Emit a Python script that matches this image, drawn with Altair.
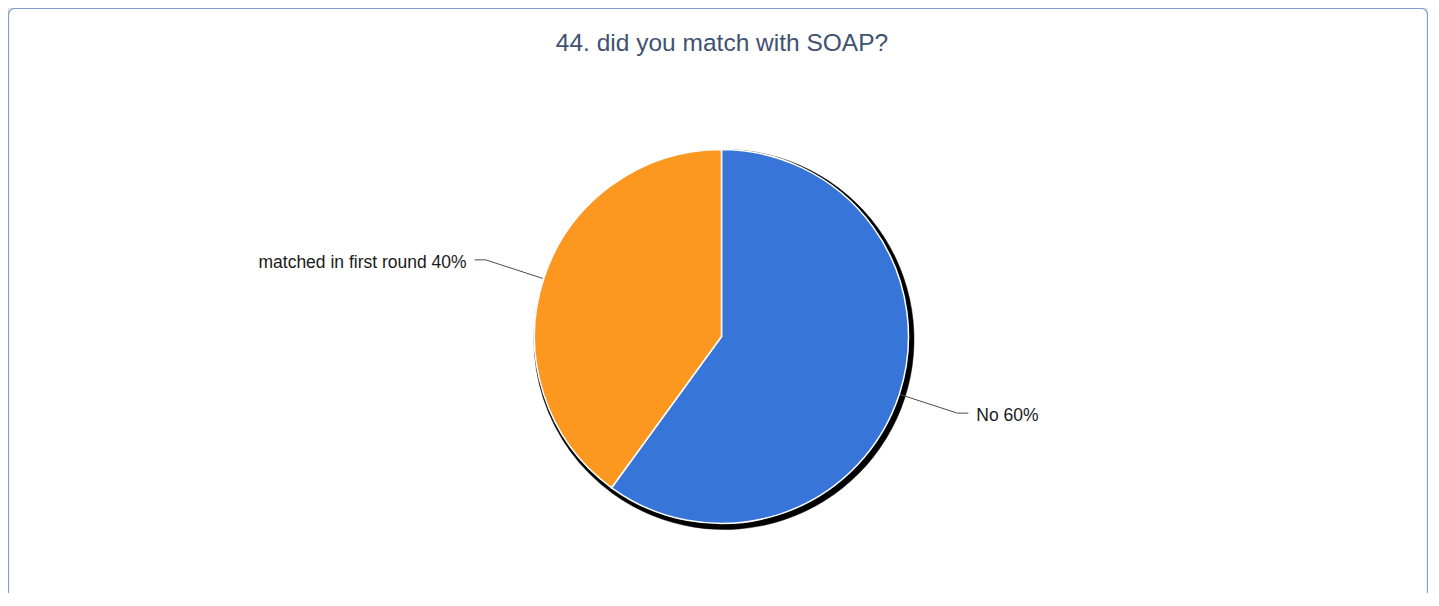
import math
import altair as alt
import pandas as pd

# ---- data ----
TITLE = "44. did you match with SOAP?"
categories = ["No", "matched in first round"]
values = [60, 40]
colors = ["#3875d8", "#fc9820"]

# ---- layout ----
W, H = 1420, 585
CX, CY = 713.5, 328.5
R = 187
R_SHADOW = 190
R_LEAD = 248
HLEN = 11
GAP = 8

total = sum(values)
pie_df = pd.DataFrame({"category": categories, "value": values, "order": range(len(values))})

# leader lines / labels derived from the data
rows, lab_rows = [], []
cum = 0
for cat, v in zip(categories, values):
    mid = (cum + v / 2) / total * 2 * math.pi
    cum += v
    s, c = math.sin(mid), math.cos(mid)
    sign = 1 if s >= 0 else -1
    p1 = (CX + (R + 1) * s, CY - (R + 1) * c)
    p2 = (CX + R_LEAD * s, CY - R_LEAD * c)
    p3 = (p2[0] + sign * HLEN, p2[1])
    for i, p in enumerate([p1, p2, p3]):
        rows.append({"category": cat, "i": i, "px": p[0], "py": p[1]})
    lab_rows.append({
        "category": cat,
        "label": f"{cat} {round(v / total * 100)}%",
        "px": p3[0] + sign * GAP,
        "py": p3[1],
        "side": "left" if sign > 0 else "right",
    })
lead_df = pd.DataFrame(rows)
lab_df = pd.DataFrame(lab_rows)

xs = alt.Scale(domain=[0, W], nice=False, zero=False)
ys = alt.Scale(domain=[0, H], nice=False, zero=False, reverse=True)

border = alt.Chart(pd.DataFrame({"a": [0]})).mark_rect(
    fill="white", stroke="#7f9fca", strokeWidth=1.2, cornerRadius=6
).encode(
    x=alt.value(0.5), x2=alt.value(W - 0.5), y=alt.value(0.5), y2=alt.value(H + 30)
)

title = alt.Chart(pd.DataFrame({"t": [TITLE]})).mark_text(
    font="Liberation Sans", fontSize=24.5, color="#3f5271", baseline="alphabetic", align="center"
).encode(text="t:N", x=alt.value(714), y=alt.value(42.5))

shadow = alt.Chart(pie_df).mark_arc(radius=R_SHADOW, color="black", stroke="black", strokeWidth=0.5).encode(
    theta=alt.Theta("value:Q", stack=True),
    order=alt.Order("order:Q"),
    x=alt.value(CX + 2.5), y=alt.value(CY + 3),
)

pie = alt.Chart(pie_df).mark_arc(radius=R, stroke="white", strokeWidth=1.5).encode(
    theta=alt.Theta("value:Q", stack=True),
    order=alt.Order("order:Q"),
    color=alt.Color("category:N", scale=alt.Scale(domain=categories, range=colors), legend=None),
    x=alt.value(CX), y=alt.value(CY),
)

leads = alt.Chart(lead_df).mark_line(color="#4d4d4d", strokeWidth=1).encode(
    x=alt.X("px:Q", scale=xs, axis=None),
    y=alt.Y("py:Q", scale=ys, axis=None),
    detail="category:N",
    order="i:Q",
)

lab_left = alt.Chart(lab_df[lab_df.side == "left"]).mark_text(
    font="Liberation Sans", fontSize=17.5, color="#1a1a1a", align="left", baseline="middle", dy=3
).encode(x=alt.X("px:Q", scale=xs, axis=None), y=alt.Y("py:Q", scale=ys, axis=None), text="label:N")

lab_right = alt.Chart(lab_df[lab_df.side == "right"]).mark_text(
    font="Liberation Sans", fontSize=17.5, color="#1a1a1a", align="right", baseline="middle", dy=3
).encode(x=alt.X("px:Q", scale=xs, axis=None), y=alt.Y("py:Q", scale=ys, axis=None), text="label:N")

chart = alt.layer(border, title, shadow, leads, pie, lab_left, lab_right).properties(
    width=W, height=H, padding=0, autosize=alt.AutoSizeParams(type="none")
).configure_view(stroke=None).configure(background="white")

chart.save("out.html", embed_options={"renderer": "svg", "actions": False})
